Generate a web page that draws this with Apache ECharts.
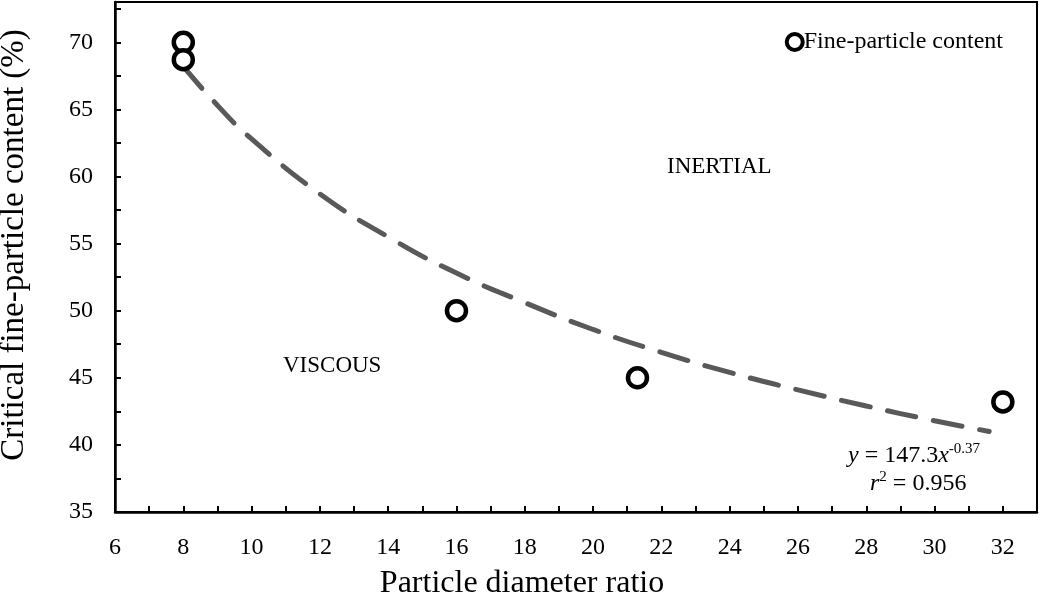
<!DOCTYPE html>
<html>
<head>
<meta charset="utf-8">
<script src="https://cdn.jsdelivr.net/npm/echarts@6/dist/echarts.min.js"></script>
<style>
  html, body { margin: 0; padding: 0; background: #fff; }
  #chart { width: 1040px; height: 595px; }
</style>
</head>
<body>
<div id="chart"></div>
<script>
// measured points
var ratioX = [8, 8, 16, 21.3, 32];
var contentY = [70, 68.7, 50, 45, 43.2];
// dashed fit curve
var fitX = [8, 9, 10, 12, 14, 16, 18, 20, 22, 24, 26, 28, 30, 31.6];
var fitY = [68.2, 65.3, 62.8, 58.7, 55.5, 52.8, 50.6, 48.6, 46.9, 45.4, 44.1, 42.9, 41.8, 41.0];
// tick labels
var xTicks = [6, 8, 10, 12, 14, 16, 18, 20, 22, 24, 26, 28, 30, 32];
var yTicks = [35, 40, 45, 50, 55, 60, 65, 70];

var serif = 'Liberation Serif';

function pairs(xs, ys) {
  return xs.map(function (x, i) { return [x, ys[i]]; });
}

var chart = echarts.init(document.getElementById('chart'));
chart.setOption({
  animation: false,
  textStyle: { fontFamily: serif, color: '#000' },
  grid: {
    left: 115, right: 3, top: 2, bottom: 83,
    outerBoundsMode: 'none',
    show: true, borderColor: '#000', borderWidth: 2
  },
  legend: {
    data: ['Fine-particle content'],
    right: 32, top: 25,
    itemWidth: 16, itemHeight: 16, itemGap: 4,
    icon: 'circle',
    itemStyle: { color: '#fff', borderColor: '#000', borderWidth: 4 },
    textStyle: { fontFamily: serif, fontSize: 24, color: '#000', padding: [0, 0, 0, -4] }
  },
  xAxis: {
    type: 'value',
    min: 6, max: 33, interval: 2,
    name: 'Particle diameter ratio',
    nameLocation: 'middle', nameGap: 56,
    nameTextStyle: { fontFamily: serif, fontSize: 32, color: '#000', padding: [0, 108, 0, 0] },
    axisLine: { lineStyle: { color: '#000', width: 2.5 } },
    axisTick: { inside: true, length: 6, lineStyle: { color: '#000', width: 2 } },
    minorTick: { show: true, splitNumber: 2, length: 6, lineStyle: { color: '#000', width: 2 } },
    splitLine: { show: false },
    axisLabel: {
      margin: 24, fontFamily: serif, fontSize: 24, color: '#000',
      formatter: function (v) { return xTicks.indexOf(v) >= 0 ? String(v) : ''; }
    }
  },
  yAxis: {
    type: 'value',
    min: 35, max: 73, interval: 5,
    name: 'Critical fine-particle content (%)',
    nameLocation: 'middle', nameGap: 84,
    nameTextStyle: { fontFamily: serif, fontSize: 33, color: '#000', padding: [0, 0, 0, 24] },
    axisLine: { show: true, lineStyle: { color: '#000', width: 2.5 } },
    axisTick: { show: true, inside: true, length: 6, lineStyle: { color: '#000', width: 2 } },
    minorTick: { show: true, splitNumber: 2, length: 6, lineStyle: { color: '#000', width: 2 } },
    splitLine: { show: false },
    axisLabel: {
      margin: 22, fontFamily: serif, fontSize: 24, color: '#000',
      formatter: function (v) { return yTicks.indexOf(v) >= 0 ? String(v) : ''; }
    }
  },
  graphic: [
    { type: 'text', left: 667, top: 155,
      style: { text: 'INERTIAL', font: '23px "Liberation Serif"', fill: '#000' } },
    { type: 'text', left: 283, top: 354,
      style: { text: 'VISCOUS', font: '23px "Liberation Serif"', fill: '#000' } },
    { type: 'text', left: 848, top: 442,
      style: {
        text: '{i|y} = 147.3{i|x}{s|-0.37}',
        font: '24px "Liberation Serif"', fill: '#000',
        rich: {
          i: { fontFamily: serif, fontSize: 24, fontStyle: 'italic' },
          s: { fontFamily: serif, fontSize: 15, verticalAlign: 'top', padding: [0, 0, 12, 0] }
        }
      } },
    { type: 'text', left: 870, top: 470,
      style: {
        text: '{i|r}{s|2} = 0.956',
        font: '24px "Liberation Serif"', fill: '#000',
        rich: {
          i: { fontFamily: serif, fontSize: 24, fontStyle: 'italic' },
          s: { fontFamily: serif, fontSize: 15, padding: [0, 0, 12, 0] }
        }
      } }
  ],
  series: [
    {
      name: 'fit',
      type: 'line',
      data: pairs(fitX, fitY),
      smooth: true,
      showSymbol: false,
      symbol: 'none',
      lineStyle: { color: '#595959', width: 5, type: [29, 18], cap: 'round' },
      z: 1
    },
    {
      name: 'Fine-particle content',
      type: 'scatter',
      data: pairs(ratioX, contentY),
      symbol: 'circle',
      symbolSize: 19,
      itemStyle: { color: '#fff', borderColor: '#000', borderWidth: 4.5, opacity: 1 },
      z: 3
    }
  ]
});
</script>
</body>
</html>
